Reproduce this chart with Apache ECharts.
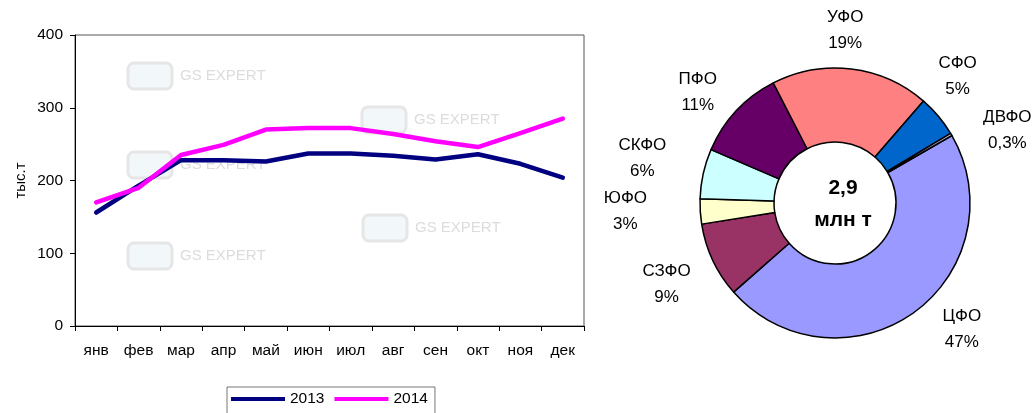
<!DOCTYPE html>
<html>
<head>
<meta charset="utf-8">
<script src="https://cdn.jsdelivr.net/npm/echarts@6/dist/echarts.min.js"></script>
<style>
  html, body { margin: 0; padding: 0; background: #fff; }
  #chart { width: 1036px; height: 413px; }
</style>
</head>
<body>
<div id="chart"></div>
<script>
// ---- data ----
const months = ['янв', 'фев', 'мар', 'апр', 'май', 'июн', 'июл', 'авг', 'сен', 'окт', 'ноя', 'дек'];
const series2013 = [156, 193, 228, 228, 226, 237, 237, 234, 229, 236, 223, 204];
const series2014 = [170, 190, 235, 249, 270, 272, 272, 264, 254, 246, 265, 285];
const seriesNames = ['2013', '2014'];
const yAxisTitle = 'тыс.т';

const regions = ['ЦФО', 'СЗФО', 'ЮФО', 'СКФО', 'ПФО', 'УФО', 'СФО', 'ДВФО'];
const shares = [47, 9, 3, 6, 11, 19, 5, 0.3];
const shareLabels = ['47%', '9%', '3%', '6%', '11%', '19%', '5%', '0,3%'];
const totalValue = '2,9';
const totalUnit = 'млн т';

// ---- styles ----
const regionColors = ['#9999FF', '#993366', '#FFFFCC', '#CCFFFF', '#660066', '#FF8080', '#0066CC', '#CCCCFF'];
// small label offsets (px) away from the mid-angle anchor, mimicking Excel's placement
const labelNudge = [[19, -24], [-1, 3], [-25, -3], [-12, -5], [-2, 16], [-12, 11], [-19, -8], [13, 21]];
const FONT = '"Liberation Sans", Arial, sans-serif';

const pieCenter = [835, 203];
const pieStart = 30;

const chart = echarts.init(document.getElementById('chart'), null, { renderer: 'canvas' });

const watermarks = [[128, 63], [362, 107], [128, 152], [363, 215], [128, 243]].map(function (p) {
  return {
    type: 'group', x: p[0], y: p[1], silent: true, z: 0,
    children: [
      { type: 'rect', shape: { x: 0, y: 0, width: 44, height: 26, r: 6 }, style: { fill: '#f2f7f9', stroke: '#e6e6e6', lineWidth: 3 } },
      { type: 'text', style: { x: 52, y: 5, text: 'GS EXPERT', fill: '#dcdcdc', font: '15px ' + FONT } }
    ]
  };
});

const option = {
  animation: false,
  textStyle: { fontFamily: FONT },
  grid: {
    left: 75, right: 452, top: 35, bottom: 87,
    show: true, borderColor: '#555', borderWidth: 1, backgroundColor: 'transparent'
  },
  legend: {
    data: seriesNames,
    left: 227, top: 387,
    icon: 'rect', itemWidth: 54, itemHeight: 4, itemGap: 10,
    padding: [4, 7, 10, 4],
    borderColor: '#777', borderWidth: 1,
    textStyle: { fontSize: 15.5, color: '#000', fontFamily: FONT }
  },
  xAxis: {
    type: 'category',
    data: months,
    boundaryGap: true,
    axisLine: { lineStyle: { color: '#000', width: 1 } },
    axisTick: { show: true, interval: 0, length: 5, lineStyle: { color: '#000' } },
    axisLabel: { interval: 0, color: '#000', fontSize: 15.5, margin: 17, fontFamily: FONT },
    splitLine: { show: false }
  },
  yAxis: {
    type: 'value',
    min: 0, max: 400, interval: 100,
    name: yAxisTitle,
    nameLocation: 'middle',
    nameGap: 47,
    nameTextStyle: { color: '#000', fontSize: 15, fontFamily: FONT },
    axisLine: { show: true, lineStyle: { color: '#000', width: 1 } },
    axisTick: { show: true, length: 5, lineStyle: { color: '#000' } },
    axisLabel: { color: '#000', fontSize: 15.5, margin: 12, fontFamily: FONT },
    splitLine: { show: false }
  },
  graphic: watermarks.concat([
    { type: 'text', x: 843, y: 188, z: 100, style: { text: totalValue, fill: '#000', font: 'bold 21px ' + FONT, align: 'center', verticalAlign: 'middle' } },
    { type: 'text', x: 843, y: 220, z: 100, style: { text: totalUnit, fill: '#000', font: 'bold 21px ' + FONT, align: 'center', verticalAlign: 'middle' } }
  ]),
  series: [
    {
      name: seriesNames[0], type: 'line', data: series2013,
      symbol: 'none', showSymbol: false, smooth: false,
      lineStyle: { color: '#000080', width: 4.5, cap: 'round', join: 'round' },
      itemStyle: { color: '#000080' },
      z: 3
    },
    {
      name: seriesNames[1], type: 'line', data: series2014,
      symbol: 'none', showSymbol: false, smooth: false,
      lineStyle: { color: '#FF00FF', width: 4.5, cap: 'round', join: 'round' },
      itemStyle: { color: '#FF00FF' },
      z: 4
    },
    {
      name: 'regions', type: 'pie',
      center: pieCenter, radius: [61, 135],
      startAngle: pieStart, clockwise: true,
      avoidLabelOverlap: false,
      minShowLabelAngle: 0,
      emphasis: { disabled: true },
      silent: true,
      itemStyle: { borderColor: '#000', borderWidth: 1.5 },
      label: {
        show: true, position: 'outside', alignTo: 'none',
        distanceToLabelLine: 0,
        color: '#000', fontSize: 17, lineHeight: 26, fontFamily: FONT,
        formatter: function (p) { return p.name + '\n' + shareLabels[p.dataIndex]; }
      },
      labelLine: { show: false, length: 50, length2: 0 },
      labelLayout: function (p) {
        const n = labelNudge[p.dataIndex];
        return { align: 'center', verticalAlign: 'middle', dx: n[0], dy: n[1] };
      },
      data: regions.map(function (r, i) {
        return { name: r, value: shares[i], itemStyle: { color: regionColors[i] } };
      })
    }
  ]
};

chart.setOption(option);
</script>
</body>
</html>
